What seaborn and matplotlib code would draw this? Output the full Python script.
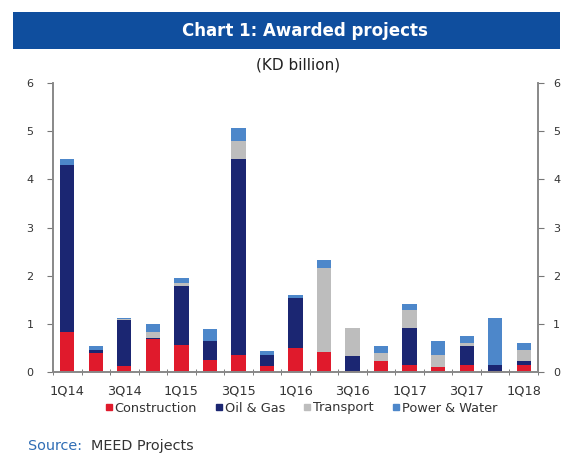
import numpy as np
import pandas as pd
import seaborn as sns
import matplotlib.pyplot as plt
from matplotlib.patches import Rectangle

quarters = ['1Q14', '2Q14', '3Q14', '4Q14', '1Q15', '2Q15', '3Q15', '4Q15', '1Q16',
            '2Q16', '3Q16', '4Q16', '1Q17', '2Q17', '3Q17', '4Q17', '1Q18']
construction = [0.84, 0.39, 0.13, 0.68, 0.57, 0.24, 0.35, 0.12, 0.49,
                0.41, 0.02, 0.22, 0.15, 0.10, 0.14, 0.02, 0.15]
oil_gas = [3.46, 0.06, 0.94, 0.03, 1.22, 0.40, 4.08, 0.24, 1.05,
           0.00, 0.31, 0.00, 0.76, 0.00, 0.39, 0.13, 0.07]
transport = [0.00, 0.00, 0.02, 0.13, 0.05, 0.00, 0.36, 0.00, 0.00,
             1.75, 0.58, 0.17, 0.38, 0.25, 0.07, 0.00, 0.24]
power_water = [0.13, 0.08, 0.03, 0.16, 0.11, 0.25, 0.28, 0.07, 0.06,
               0.17, 0.00, 0.14, 0.13, 0.29, 0.14, 0.97, 0.14]

series = ['Construction', 'Oil & Gas', 'Transport', 'Power & Water']
colors = ['#E01A2C', '#1B2672', '#BDBDBD', '#4D87CA']

df = pd.DataFrame({'quarter': quarters, 'Construction': construction,
                   'Oil & Gas': oil_gas, 'Transport': transport,
                   'Power & Water': power_water})
cum = df[series].cumsum(axis=1)
cum['quarter'] = df['quarter']

plt.rcParams['font.family'] = ['DejaVu Sans']
fig = plt.figure(figsize=(5.72, 4.54), dpi=100)
# spines at x=53 / 538 px, y=83 / 372 px
ax = fig.add_axes([53 / 572, 82 / 454, 485 / 572, 289 / 454])

# stacked bars: draw the running totals from the top down
for name, col in reversed(list(zip(series, colors))):
    sns.barplot(data=cum, x='quarter', y=name, color=col, width=0.5,
                saturation=1, ax=ax, label=name)

ax.set_ylim(0, 6)
ax.set_xlim(-0.45, 16.49)
ax.set_xlabel('')
ax.set_ylabel('')
ax.set_yticks(range(7))
ax.tick_params(axis='y', labelsize=8, length=4, pad=10, colors='#777777', labelcolor='#333333')
ax.set_xticks(range(0, 17, 2))
ax.set_xticklabels(quarters[::2], fontsize=9.3, color='#333333')
ax.tick_params(axis='x', length=0, pad=9)
ax.set_xticks(np.arange(-0.5, 17, 1), minor=True)
ax.tick_params(axis='x', which='minor', length=5, direction='inout', color='#666666')

ax2 = ax.twinx()
ax2.set_ylim(0, 6)
ax2.set_yticks(range(7))
ax2.tick_params(axis='y', labelsize=8, length=4, pad=7, colors='#777777', labelcolor='#333333')

for a in (ax, ax2):
    a.spines['top'].set_visible(False)
    for s in ('left', 'right', 'bottom'):
        a.spines[s].set_color('#888888')
        a.spines[s].set_linewidth(1.2)

handles = [plt.Line2D([], [], marker='s', linestyle='', color=c, markersize=4.5) for c in colors]
ax.legend(handles, series, loc='center', bbox_to_anchor=(301 / 572, 1 - 408 / 454), ncol=4,
          bbox_transform=fig.transFigure, frameon=False, fontsize=9.3,
          handlelength=0.6, handletextpad=0.15, columnspacing=1.4,
          borderaxespad=0, labelcolor='#333333')

# header band
fig.patches.append(Rectangle((13 / 572, 1 - 49 / 454), 547 / 572, 37 / 454,
                             transform=fig.transFigure, facecolor='#0F4E9E', edgecolor='none'))
fig.text(305 / 572, 1 - 31 / 454, 'Chart 1: Awarded projects', ha='center', va='center',
         color='white', fontsize=12, fontweight='bold')
fig.text(298 / 572, 1 - 65 / 454, '(KD billion)', ha='center', va='center',
         fontsize=11, color='#222222')

fig.text(28 / 572, 1 - 446 / 454, 'Source:', ha='left', va='center', fontsize=10.4, color='#2F6DB5')
fig.text(91 / 572, 1 - 446 / 454, 'MEED Projects', ha='left', va='center', fontsize=10.4, color='#333333')

fig.savefig('out.png', dpi=100)
